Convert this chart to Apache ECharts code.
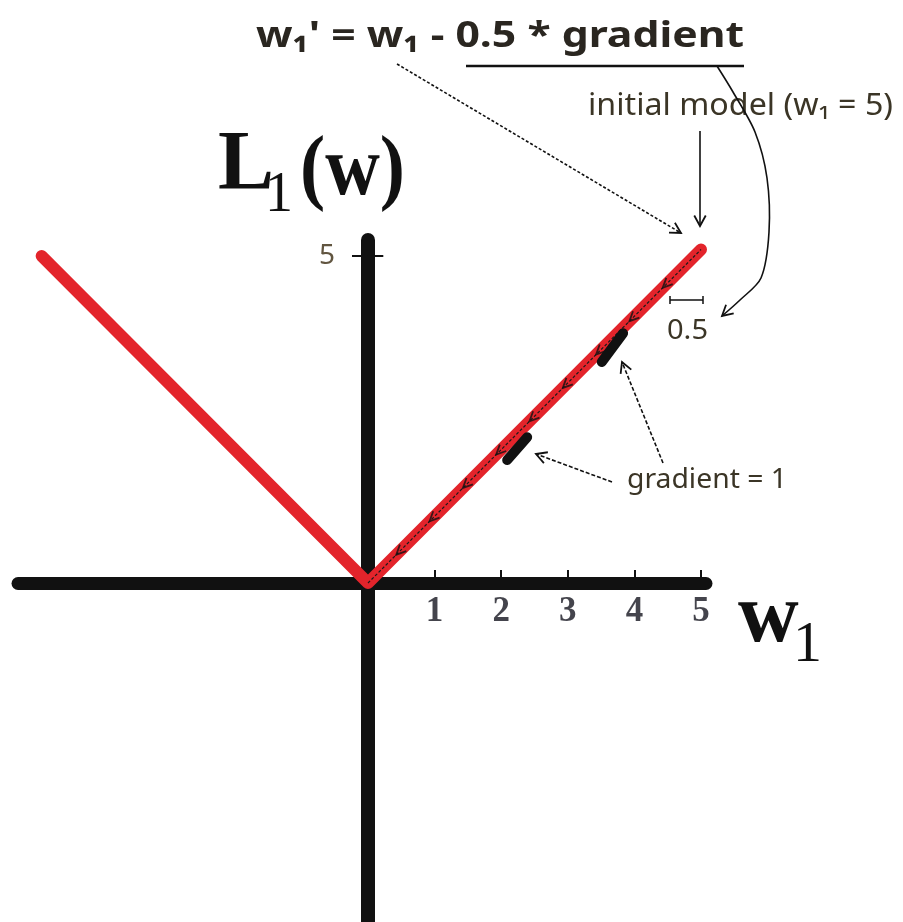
<!DOCTYPE html>
<html><head><meta charset="utf-8">
<script src="https://cdn.jsdelivr.net/npm/echarts@6/dist/echarts.min.js"></script>
<style>html,body{margin:0;padding:0;background:#fff}#c{width:903px;height:922px}</style>
</head><body><div id="c"></div>
<script>
// ---- data ----
const lossW = [-4.9, 0, 5.0];          // w1 values of the L1 loss polyline
const lossL = [5.0, 0, 5.1];           // L1(w) values
const xTickValues = [1, 2, 3, 4, 5];
const yTickValues = [5];
const stepW = [0.5, 1.0, 1.5, 2.0, 2.5, 3.0, 3.5, 4.0, 4.5];      // gradient-descent steps (size 0.5)
const stepL = [0.51, 1.02, 1.53, 2.04, 2.55, 3.06, 3.57, 4.08, 4.59];
const gradMarkAW = [2.09, 2.39], gradMarkAL = [1.88, 2.23];
const gradMarkBW = [3.51, 3.83], gradMarkBL = [3.38, 3.82];

const pair = (xs, ys) => xs.map((x, i) => [x, ys[i]]);
const INK = '#111';
const RED = '#e3242b';
const TXT = '#3b3526';

const mctx = document.createElement('canvas').getContext('2d');
function head(tip, from, len, ang) {
  const dx = from[0] - tip[0], dy = from[1] - tip[1];
  const d = Math.hypot(dx, dy), ux = dx / d, uy = dy / d;
  const r = a => [ux * Math.cos(a) - uy * Math.sin(a), ux * Math.sin(a) + uy * Math.cos(a)];
  const a1 = r(ang), a2 = r(-ang);
  return [[tip[0] + a1[0] * len, tip[1] + a1[1] * len], tip, [tip[0] + a2[0] * len, tip[1] + a2[1] * len]];
}
function arrow(points, dash, smooth) {
  const tip = points[points.length - 1], prev = points[points.length - 2];
  return [
    {type: 'polyline', shape: {points: points, smooth: smooth || 0}, style: {stroke: INK, lineWidth: 1.6, lineDash: dash || null, fill: null}},
    {type: 'polyline', shape: {points: head(tip, prev, 12, 0.5)}, style: {stroke: INK, lineWidth: 1.8, fill: null}}
  ];
}
function txt(x, y, text, font, fill, targetW, sx) {
  let scaleX = sx || 1;
  if (targetW) { mctx.font = font; scaleX = targetW / mctx.measureText(text).width; }
  return {type: 'text', x: x, y: y, scaleX: scaleX,
          style: {text: text, font: font, fill: fill, textAlign: 'left', textVerticalAlign: 'middle'}};
}

const chevron = 'path://M3.4,0.6L0,10L9.4,6.6';

const graphics = [].concat(
  [txt(256, 37, "w\u2081' = w\u2081 - 0.5 * gradient", 'bold 36px "Noto Sans"', '#2a2620', 488),
   {type: 'line', shape: {x1: 466, y1: 66, x2: 744, y2: 66}, style: {stroke: INK, lineWidth: 2.5}},
   txt(588, 106, 'initial model (w\u2081 = 5)', '31px "Noto Sans"', TXT, 305),
   txt(627, 480, 'gradient = 1', '28px "Noto Sans"', TXT, 160),
   txt(667, 331, '0.5', '28px "Noto Sans"', TXT, 41),
   txt(218, 167, 'L', 'bold 84px "Liberation Serif"', '#111', null, 1),
   txt(265, 196, '1', '56px "Liberation Serif"', '#111', null, 1),
   txt(300, 172, '(w)', 'bold 84px "Liberation Serif"', '#111', null, 0.9),
   txt(738, 619, 'w', 'bold 84px "Liberation Serif"', '#111', null, 1),
   txt(793, 646, '1', '58px "Liberation Serif"', '#111', null, 1),
   {type: 'polyline', shape: {points: [[670, 296], [670, 304], [670, 300], [703, 300], [703, 296], [703, 304]]}, style: {stroke: INK, lineWidth: 1.5, fill: null}}
  ],
  arrow([[397, 64], [681, 233]], [3, 2]),
  arrow([[700, 131], [700, 226]]),
  arrow([[717, 66], [733, 92], [755, 132], [767, 178], [769, 232], [761, 278], [740, 300], [722, 316]], null, 0.3),
  arrow([[612, 482], [536, 454]], [4, 2]),
  arrow([[663, 463], [622, 362]], [4, 2])
);

const chart = echarts.init(document.getElementById('c'));
chart.setOption({
  animation: false,
  backgroundColor: '#fff',
  grid: {left: 18, right: 197, top: 240, bottom: 0, containLabel: false, outerBoundsMode: 'none'},
  xAxis: {
    type: 'value', min: -5.255, max: 5.075,
    axisLine: {onZero: true, lineStyle: {color: INK, width: 13, cap: 'round'}},
    axisTick: {show: true, inside: true, length: 13, customValues: xTickValues, lineStyle: {color: INK, width: 2}},
    axisLabel: {show: false},
    splitLine: {show: false}
  },
  yAxis: {
    type: 'value', min: -5.183, max: 5.245,
    axisLine: {onZero: true, lineStyle: {color: INK, width: 14, cap: 'round'}},
    axisTick: {show: true, inside: false, length: 16, customValues: yTickValues, lineStyle: {color: INK, width: 2}},
    axisLabel: {show: false},
    splitLine: {show: false}
  },
  series: [
    {type: 'line', name: 'L1', data: pair(lossW, lossL), symbol: 'none', z: 3, silent: true,
     lineStyle: {color: RED, width: 12, cap: 'round', join: 'round'}},
    {type: 'line', name: 'path', data: pair(lossW.slice(1), lossL.slice(1)), symbol: 'none', z: 4, silent: true,
     lineStyle: {color: '#1a1a1a', width: 1.2, type: [3, 2]}},
    {type: 'scatter', name: 'steps', data: pair(stepW, stepL), symbol: chevron, symbolSize: 10, z: 5, silent: true,
     itemStyle: {color: 'none', borderColor: INK, borderWidth: 1.8}},
    {type: 'line', name: 'gradA', data: pair(gradMarkAW, gradMarkAL), symbol: 'none', z: 6, silent: true,
     lineStyle: {color: INK, width: 10, cap: 'round'}},
    {type: 'line', name: 'gradB', data: pair(gradMarkBW, gradMarkBL), symbol: 'none', z: 6, silent: true,
     lineStyle: {color: INK, width: 10, cap: 'round'}},
    {type: 'line', name: 'ytick', data: yTickValues.map(v => [0.23, v]).concat(yTickValues.map(v => [0, v])), symbol: 'none', z: 2, silent: true,
     lineStyle: {color: INK, width: 2}},
    {type: 'scatter', name: 'xLabels', data: xTickValues.map(v => [v, 0]), symbolSize: 0, z: 7, silent: true,
     itemStyle: {color: 'transparent'},
     label: {show: true, position: 'bottom', distance: 11, formatter: p => String(p.value[0]),
             color: '#15151f', fontFamily: 'Liberation Serif', fontWeight: 'bold', fontSize: 35}},
    {type: 'scatter', name: 'yLabels', data: yTickValues.map(v => [0, v]), symbolSize: 0, z: 7, silent: true,
     itemStyle: {color: 'transparent'},
     label: {show: true, position: 'left', distance: 33, formatter: p => String(p.value[1]),
             color: '#3a2a10', fontFamily: 'Noto Sans', fontSize: 28}}
  ],
  graphic: graphics
});
</script></body></html>
